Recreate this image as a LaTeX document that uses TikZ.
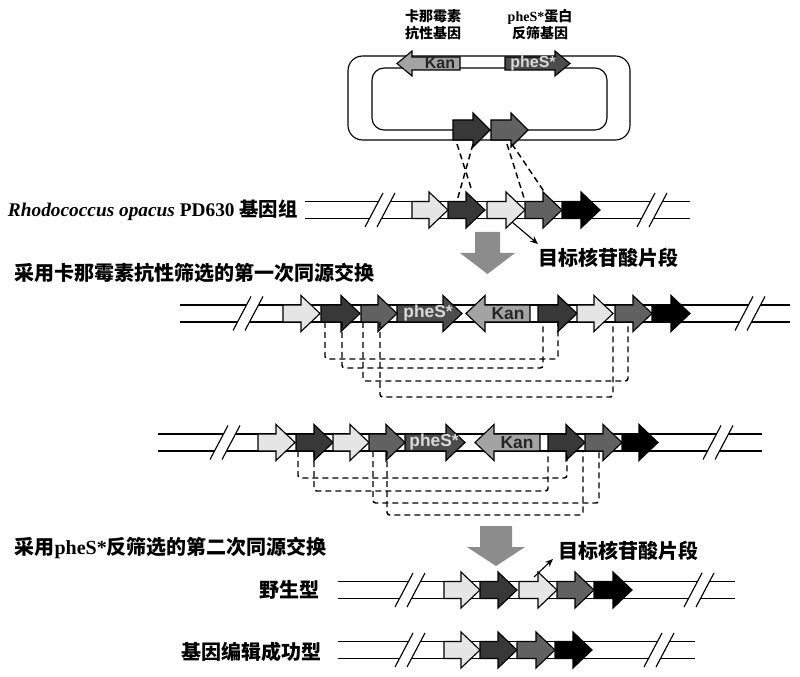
\documentclass[tikz,border=0pt]{standalone}
\usepackage{fontspec}
\setmainfont{Liberation Serif}
\newfontfamily\cjk{Noto Sans CJK SC}
\newfontfamily\arialfont{Liberation Sans}
\usetikzlibrary{arrows.meta}

\definecolor{lightgene}{gray}{0.90}
\definecolor{darkgene}{gray}{0.22}
\definecolor{midgene}{gray}{0.38}
\definecolor{kangene}{gray}{0.64}
\definecolor{phesgene}{gray}{0.30}
\definecolor{bigarrow}{gray}{0.55}

\def\gbody{8.5}
\def\ghead{18}
\def\glen{19}
% gene arrow pointing right: start, tip, centre line, fill
\newcommand{\gene}[4]{%
  \filldraw [fill=#4] (#1,#3-\gbody) -- (#2-\glen,#3-\gbody) -- (#2-\glen,#3-\ghead) -- (#2,#3)
    -- (#2-\glen,#3+\ghead) -- (#2-\glen,#3+\gbody) -- (#1,#3+\gbody) -- cycle;}
% gene arrow pointing left: tip, end, centre line, fill
\newcommand{\leftgene}[4]{%
  \filldraw [fill=#4] (#2,#3-\gbody) -- (#1+\glen,#3-\gbody) -- (#1+\glen,#3-\ghead) -- (#1,#3)
    -- (#1+\glen,#3+\ghead) -- (#1+\glen,#3+\gbody) -- (#2,#3+\gbody) -- cycle;}
% double line of the genome
\newcommand{\chrom}[3]{%
  \draw (#1,#3-\gbody) -- (#2,#3-\gbody);
  \draw (#1,#3+\gbody) -- (#2,#3+\gbody);}
% break marks
\newcommand{\brk}[2]{%
  \fill [white] (#1-15,#2+17) -- (#1+3,#2-17) -- (#1+15,#2-17) -- (#1-3,#2+17) -- cycle;
  \draw (#1-15,#2+17) -- (#1+3,#2-17);
  \draw (#1-3,#2+17) -- (#1+15,#2-17);}

\begin{document}
\begin{tikzpicture}[x=0.75pt,y=-0.75pt,line width=0.85pt,
    link/.style={dash pattern=on 4.5pt off 3pt,line width=1.1pt,rounded corners=2pt},
    cjktext/.style={font=\cjk\bfseries\fontsize{15}{17}\selectfont,inner sep=0pt},
    smalltext/.style={font=\cjk\bfseries\fontsize{10.5}{12.5}\selectfont,inner sep=0pt,align=center},
    genetext/.style={font=\arialfont\bfseries\fontsize{13}{13}\selectfont,inner sep=0pt}]
  \useasboundingbox (0,0) rectangle (800,677);

  % plasmid
  \node (kanlabel) [smalltext] at (433,25) {卡那霉素\\抗性基因};
  \node (pheslabel) [smalltext] at (540,25) {{\rmfamily\bfseries pheS*}蛋白\\反筛基因};
  \draw [rounded corners=11pt] (348,56) rectangle (630,140);
  \draw [rounded corners=9pt] (372,68) rectangle (607,130);
  \begin{scope}
    \def\gbody{6.5}\def\ghead{12.5}\def\glen{15}
    \leftgene{397}{460}{63.5}{kangene}
    \gene{505}{570}{63.5}{phesgene}
    \node (kanp) [genetext,font=\arialfont\bfseries\fontsize{12}{12}\selectfont,text=black!85] at (440,63.5) {Kan};
    \node (phesp) [genetext,font=\arialfont\bfseries\fontsize{12}{12}\selectfont,text=white!85!black] at (533,63.5) {pheS*};
    \def\gbody{10}\def\ghead{17}\def\glen{17}
    \gene{453}{490}{130}{darkgene}
    \gene{491}{528}{130}{midgene}
  \end{scope}
  \coordinate (pa) at (457,144);
  \coordinate (pb) at (473,144);
  \coordinate (pc) at (507,144);
  \coordinate (pd) at (512,144);

  % genome
  \node (genome) [anchor=east,inner sep=0pt,font=\fontsize{14.5}{16}\selectfont] at (298,210)
    {\textbf{\textit{Rhodococcus opacus}} \textbf{PD630} {\cjk\bfseries 基因组}};
  \chrom{305}{690}{210}
  \brk{380}{210}
  \brk{652}{210}
  \gene{412}{448}{210}{lightgene}
  \gene{448}{485}{210}{darkgene}
  \gene{487}{525}{210}{lightgene}
  \gene{525}{562}{210}{midgene}
  \gene{562}{600}{210}{black}
  \coordinate (ga) at (472,191);
  \coordinate (gb) at (457,201);
  \coordinate (gc) at (525,201);
  \coordinate (gd) at (545,193);
  \draw [link] (pa) -- (ga);
  \draw [link] (pb) -- (gb);
  \draw [link] (pc) -- (gc);
  \draw [link] (pd) -- (gd);
  \coordinate (tgt1) at (512,222);
  \coordinate (tgt1tip) at (538,244);
  \draw [-{Stealth[length=6pt,width=5pt]}] (tgt1) -- (tgt1tip);
  \node (target1) [cjktext,anchor=west] at (538,258) {目标核苷酸片段};

  \fill [bigarrow] (475,232) -- (500,232) -- (500,253) -- (515,253) -- (487.5,274) -- (460,253) -- (475,253) -- cycle;
  \node (step1) [cjktext,anchor=west] at (14,273) {采用卡那霉素抗性筛选的第一次同源交换};

  % first crossover
  \chrom{180}{790}{313.5}
  \brk{248}{313.5}
  \brk{750}{313.5}
  \gene{283}{320}{313.5}{lightgene}
  \gene{321}{360}{313.5}{darkgene}
  \gene{397}{462}{313.5}{phesgene}
  \gene{361}{397}{313.5}{midgene}
  \leftgene{466}{530}{313.5}{kangene}
  \gene{538}{577}{313.5}{darkgene}
  \gene{577}{613}{313.5}{lightgene}
  \gene{615}{652}{313.5}{midgene}
  \gene{652}{690}{313.5}{black}
  \node (phes2) [genetext,text=white!85!black] at (428,313.5) {pheS*};
  \node (kan2) [genetext,text=black!85] at (508,313.5) {Kan};
  \coordinate (r2a) at (325,322);
  \coordinate (r2b) at (342,322);
  \coordinate (r2c) at (363,322);
  \coordinate (r2d) at (380,322);
  \coordinate (r2e) at (558,322);
  \coordinate (r2f) at (543,322);
  \coordinate (r2g) at (628,322);
  \coordinate (r2h) at (613,322);
  \draw [link] (r2a) -- ++(0,37) -| (r2e);
  \draw [link] (r2b) -- ++(0,46) -| (r2f);
  \draw [link] (r2c) -- ++(0,59) -| (r2g);
  \draw [link] (r2d) -- ++(0,75) -| (r2h);

  % second row of the first crossover
  \chrom{158}{762}{442.5}
  \brk{225}{442.5}
  \brk{718}{442.5}
  \gene{258}{295}{442.5}{lightgene}
  \gene{296}{333}{442.5}{darkgene}
  \gene{333}{369}{442.5}{lightgene}
  \gene{405}{465}{442.5}{phesgene}
  \gene{369}{405}{442.5}{midgene}
  \leftgene{475}{540}{442.5}{kangene}
  \gene{548}{585}{442.5}{darkgene}
  \gene{585}{622}{442.5}{midgene}
  \gene{622}{658}{442.5}{black}
  \node (phes3) [genetext,text=white!85!black] at (434,442.5) {pheS*};
  \node (kan3) [genetext,text=black!85] at (517,442.5) {Kan};
  \coordinate (r3a) at (298,451);
  \coordinate (r3b) at (314,451);
  \coordinate (r3c) at (373,451);
  \coordinate (r3d) at (387,451);
  \coordinate (r3e) at (567,451);
  \coordinate (r3f) at (548,451);
  \coordinate (r3g) at (599,451);
  \coordinate (r3h) at (583,451);
  \draw [link] (r3a) -- ++(0,27) -| (r3e);
  \draw [link] (r3b) -- ++(0,40) -| (r3f);
  \draw [link] (r3c) -- ++(0,52) -| (r3g);
  \draw [link] (r3d) -- ++(0,64) -| (r3h);

  \fill [bigarrow] (480,526) -- (512,526) -- (512,547) -- (525,547) -- (496,566) -- (467,547) -- (480,547) -- cycle;
  \node (step2) [cjktext,anchor=west] at (14,548) {采用{\rmfamily\bfseries pheS*}反筛选的第二次同源交换};

  % wild type
  \node (wild) [cjktext,anchor=east] at (320,590) {野生型};
  \chrom{338}{735}{590}
  \brk{410}{590}
  \brk{699}{590}
  \gene{444}{480}{590}{lightgene}
  \gene{480}{517}{590}{darkgene}
  \gene{519}{557}{590}{lightgene}
  \gene{557}{594}{590}{midgene}
  \gene{594}{632}{590}{black}
  \coordinate (tgt2) at (534,577);
  \coordinate (tgt2tip) at (553,559);
  \draw [-{Stealth[length=6pt,width=5pt]}] (tgt2) -- (tgt2tip);
  \node (target2) [cjktext,anchor=west] at (558,551) {目标核苷酸片段};

  % edited
  \node (edited) [cjktext,anchor=east] at (322,652) {基因编辑成功型};
  \chrom{338}{695}{650}
  \brk{410}{650}
  \brk{659}{650}
  \gene{444}{480}{650}{lightgene}
  \gene{480}{517}{650}{darkgene}
  \gene{517}{555}{650}{midgene}
  \gene{555}{592}{650}{black}
\end{tikzpicture}
\end{document}
